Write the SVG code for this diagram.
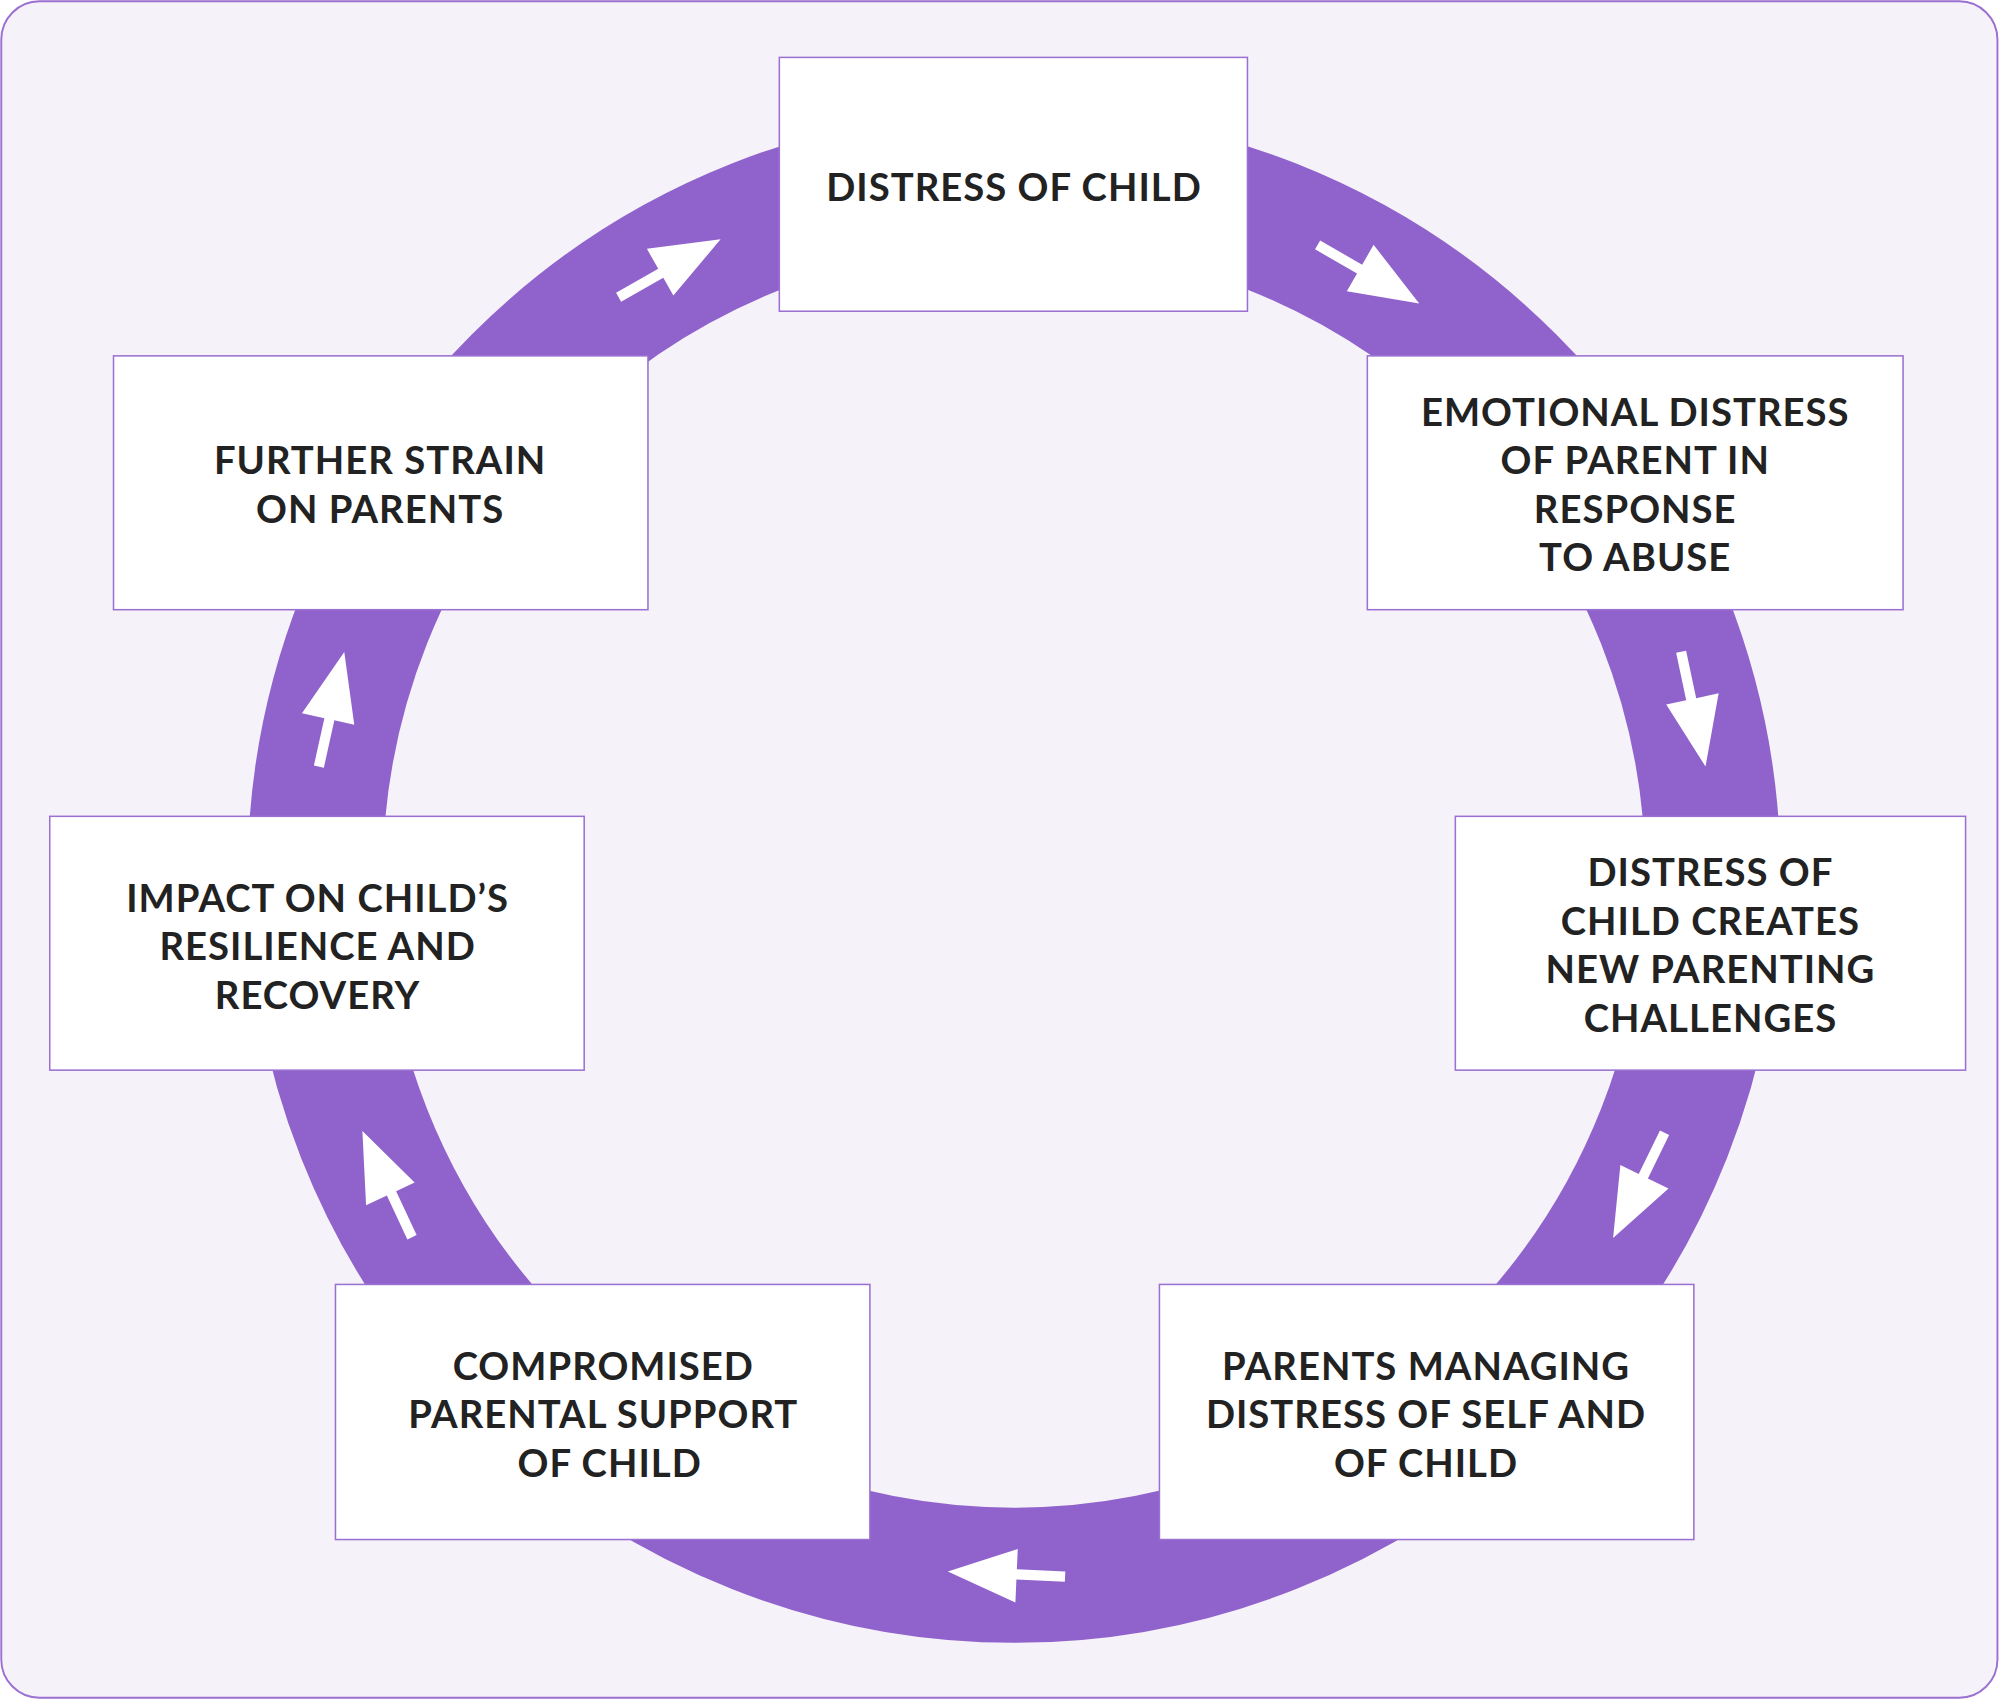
<svg xmlns="http://www.w3.org/2000/svg" width="2000" height="1700" viewBox="0 0 2000 1700">
<style>
.box{fill:#fff;stroke:#9a70d0;stroke-width:1.2}
.t{font-family:Lato,"Open Sans","Liberation Sans",sans-serif;font-weight:700;font-size:30px;fill:#222;text-anchor:middle;dominant-baseline:central;letter-spacing:0.8px}
.arr{fill:#fff}
</style>
<defs>
<path id="ar" d="M0,-4 L38,-4 L38,-22 L92,0 L38,20 L38,4 L0,4 Z"/>
</defs>
<g transform="scale(1.27551)">
<rect x="1" y="1" width="1565" height="1330" rx="30" fill="#f6f2fa" stroke="#9a70d0" stroke-width="1.5"/>
<g id="connectors">
<circle cx="795" cy="687" r="548" fill="none" stroke="#9063cc" stroke-width="106"/>
<use href="#ar" class="arr" transform="translate(485,233) rotate(-29.6)"/>
<use href="#ar" class="arr" transform="translate(1033,192) rotate(30)"/>
<use href="#ar" class="arr" transform="translate(1318,511) rotate(78)"/>
<use href="#ar" class="arr" transform="translate(1305,888) rotate(116)"/>
<use href="#ar" class="arr" transform="translate(835,1236) rotate(182.5)"/>
<use href="#ar" class="arr" transform="translate(323,970) rotate(245)"/>
<use href="#ar" class="arr" transform="translate(250,601) rotate(-77.5)"/>
</g>
<g id="n1"><rect class="box" x="611" y="45" width="367" height="199"/><text class="t" x="795" y="146">DISTRESS OF CHILD</text></g>
<g id="n2"><rect class="box" x="1072" y="279" width="420" height="199"/><text class="t" x="1282"><tspan x="1282" y="322">EMOTIONAL DISTRESS</tspan><tspan x="1282" y="360">OF PARENT IN</tspan><tspan x="1282" y="398">RESPONSE</tspan><tspan x="1282" y="436">TO ABUSE</tspan></text></g>
<g id="n3"><rect class="box" x="1141" y="640" width="400" height="199"/><text class="t"><tspan x="1341" y="683">DISTRESS OF</tspan><tspan x="1341" y="721">CHILD CREATES</tspan><tspan x="1341" y="759">NEW PARENTING</tspan><tspan x="1341" y="797">CHALLENGES</tspan></text></g>
<g id="n4"><rect class="box" x="909" y="1007" width="419" height="200"/><text class="t"><tspan x="1118" y="1070">PARENTS MANAGING</tspan><tspan x="1118" y="1108">DISTRESS OF SELF AND</tspan><tspan x="1118" y="1146">OF CHILD</tspan></text></g>
<g id="n5"><rect class="box" x="263" y="1007" width="419" height="200"/><text class="t"><tspan x="473" y="1070">COMPROMISED</tspan><tspan x="473" y="1108">PARENTAL SUPPORT</tspan><tspan x="478" y="1146">OF CHILD</tspan></text></g>
<g id="n6"><rect class="box" x="39" y="640" width="419" height="199"/><text class="t"><tspan x="249" y="703">IMPACT ON CHILD’S</tspan><tspan x="249" y="741">RESILIENCE AND</tspan><tspan x="249" y="779">RECOVERY</tspan></text></g>
<g id="n7"><rect class="box" x="89" y="279" width="419" height="199"/><text class="t"><tspan x="298" y="360">FURTHER STRAIN</tspan><tspan x="298" y="398">ON PARENTS</tspan></text></g>
</g>
</svg>
